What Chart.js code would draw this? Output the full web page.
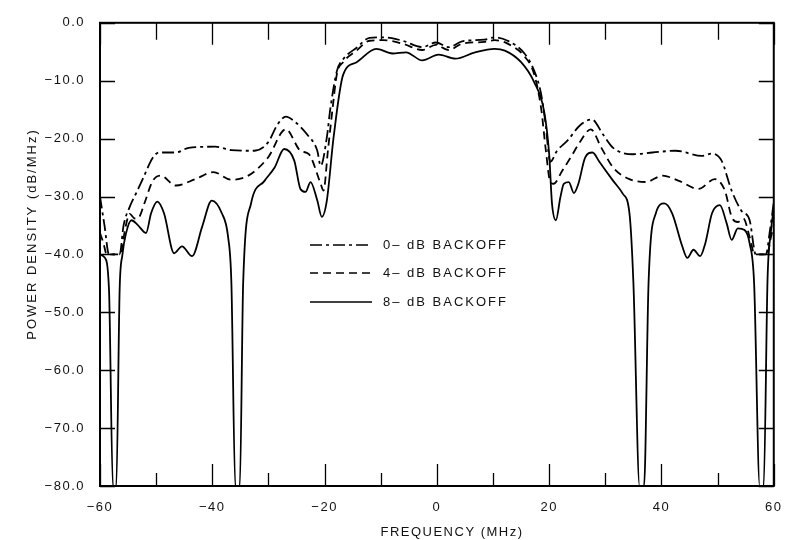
<!DOCTYPE html>
<html>
<head>
<meta charset="utf-8">
<script src="https://cdn.jsdelivr.net/npm/chart.js@4/dist/chart.umd.min.js"></script>
<style>
html,body{margin:0;padding:0;background:#fff;}
#wrap{width:795px;height:540px;}
</style>
</head>
<body>
<div id="wrap"><canvas id="c" width="795" height="540"></canvas></div>
<script>
// Series labels
const seriesLabels = ["0\u2013 dB BACKOFF", "4\u2013 dB BACKOFF", "8\u2013 dB BACKOFF"];

// 0-dB backoff (dash-dot)
const freq0 = [-60, -59.2, -58.4, -57.5, -56.5, -55.8, -54.8, -53.6, -52.4, -50.6, -49.5, -46.5, -44.2, -39.5, -36.6, -32.5, -30.1, -28.4, -26.9, -25.4, -23.1, -21.3, -20.7, -19.6, -19.0, -17.8, -16.7, -14.3, -12.0, -9.6, -6.1, -2.6, -0.2, 2.1, 4.5, 8.5, 10.3, 12.6, 15.6, 17.3, 18.5, 19.3, 20.2, 21.4, 23.2, 25.6, 27.6, 29.6, 31.4, 34.9, 38.4, 42.5, 47.2, 49.0, 50.7, 52.5, 54.2, 55.7, 56.8, 58.6, 59.3, 60];
const db0 = [-30, -35, -40, -40, -40, -35, -32, -29.5, -27, -23.3, -22.4, -22.4, -21.6, -21.4, -22, -22.1, -20.7, -17.6, -16.2, -17, -19.3, -22.1, -24.7, -19.8, -15, -8.3, -6.3, -4.3, -2.6, -2.5, -3.1, -4.2, -3.4, -4.2, -3.2, -2.9, -2.5, -3.1, -5.3, -8.2, -12, -17, -24, -22.1, -20.4, -17.6, -16.7, -19.3, -21.6, -22.7, -22.4, -22.1, -23, -22.6, -23.8, -29, -32.4, -34.1, -40, -40, -36, -31];

// 4-dB backoff (dashed)
const freq4 = [-60, -59.4, -58.8, -57.5, -56.3, -55.6, -54.7, -53.8, -53.0, -52.1, -50.6, -49.2, -46.5, -43.0, -39.8, -36.6, -33.6, -30.1, -26.9, -24.3, -22.8, -20.7, -20.2, -19.4, -18.6, -17.8, -16.7, -14.3, -12.0, -9.6, -6.1, -2.6, -0.2, 2.1, 4.5, 8.5, 10.3, 12.6, 15.6, 17.3, 18.6, 19.4, 20.2, 20.8, 22.3, 23.8, 25.6, 27.4, 29.3, 31.4, 34.3, 37.2, 40.2, 43.1, 46.6, 49.5, 51.3, 52.5, 53.6, 54.6, 55.7, 56.6, 58.8, 59.5, 60];
const db4 = [-36.3, -38, -40, -40, -40, -36, -33, -33.8, -33.5, -31.2, -27.3, -26.4, -28.1, -27, -25.8, -27.1, -26.4, -23.3, -18.4, -22.1, -22.7, -27.8, -29, -22, -15, -8.8, -6.8, -4.8, -3.1, -3.0, -3.6, -4.7, -3.8, -4.7, -3.6, -3.3, -3.0, -3.6, -5.8, -8.8, -15, -22, -27.5, -27.8, -25.6, -23.3, -20.4, -18.4, -21.6, -25, -27, -27.5, -26.4, -27.3, -28.7, -27, -29, -33.5, -34.4, -33.8, -37, -40, -40, -37, -35];

// 8-dB backoff (solid)
const freq8 = [-60, -59.2, -58.4, -57.7, -57.1, -56.5, -56.0, -55.4, -54.4, -53.3, -51.8, -50.9, -49.8, -48.6, -46.8, -45.4, -43.6, -41.8, -40.1, -38.3, -37.2, -36.6, -35.9, -35.1, -34.5, -33.1, -30.7, -28.9, -27.2, -25.4, -24.3, -23.4, -22.5, -21.3, -20.5, -19.6, -18.4, -16.7, -14.3, -10.8, -7.9, -5.5, -2.6, 0.3, 3.3, 6.8, 10.3, 12.1, 15.0, 17.3, 19.1, 20.0, 20.5, 21.2, 22.0, 22.6, 23.5, 24.4, 25.2, 26.4, 27.7, 29.0, 31.4, 33.1, 34.3, 35.0, 36.1, 36.9, 37.7, 39.0, 40.5, 41.9, 43.7, 44.6, 45.7, 46.9, 47.8, 49.0, 50.4, 51.6, 52.5, 53.6, 54.8, 55.7, 56.5, 57.5, 58.2, 58.9, 59.5, 60];
const db8 = [-40, -40.5, -46, -80, -80, -46, -40, -36.5, -34.1, -34.9, -36.3, -32.9, -30.9, -32.9, -39.8, -38.6, -40.3, -35.2, -30.7, -32.9, -36.9, -44.9, -80, -80, -44.9, -31.2, -27.3, -25.0, -21.8, -23.8, -28.7, -29.2, -27.5, -30.7, -33.5, -30.7, -19.8, -9.0, -6.8, -4.5, -5.3, -5.1, -6.5, -5.5, -6.2, -5.1, -4.5, -4.8, -6.8, -10.2, -15.3, -22.7, -31.2, -34.1, -30.1, -27.8, -27.5, -29.4, -27.8, -23.3, -22.4, -24.1, -27.3, -29.5, -32.9, -44.9, -80, -80, -44.9, -32.9, -31.2, -32.9, -38.6, -40.6, -39.2, -40.3, -38.1, -32.9, -31.5, -34.6, -37.5, -35.5, -35.8, -38.1, -45, -80, -80, -44, -36, -32];

// Axis ranges / ticks
const xMin = -60, xMax = 60, xStep = 10, xLabelEvery = 20;
const yMin = -80, yMax = 0, yStep = 10;
const xTitle = "FREQUENCY (MHz)";
const yTitle = "POWER DENSITY (dB/MHz)";

const FONT = '"Liberation Sans", Arial, Helvetica, sans-serif';
const dashes = [[12, 4, 3, 4], [8, 5], []];

function pts(f, d) { return f.map((x, i) => ({x: x, y: d[i]})); }
function fmtNeg(v, dec) {
  const s = Math.abs(v).toFixed(dec);
  return v < 0 ? '\u2212' + s : s;
}

const frame = {
  id: 'frame',
  beforeDraw(c) { c.ctx.letterSpacing = '1.5px'; },
  afterDraw(c) {
    const {ctx, chartArea: a, scales: {x, y}} = c;
    ctx.save();
    ctx.letterSpacing = '0px';
    ctx.setLineDash([]);
    ctx.strokeStyle = '#000';
    ctx.lineWidth = 2;
    ctx.strokeRect(a.left, a.top, a.right - a.left, a.bottom - a.top);
    ctx.lineWidth = 1.3;
    ctx.beginPath();
    y.ticks.forEach(t => {
      const py = Math.round(y.getPixelForValue(t.value)) + 0.5;
      ctx.moveTo(a.left, py); ctx.lineTo(a.left + 15, py);
      ctx.moveTo(a.right, py); ctx.lineTo(a.right - 15, py);
    });
    x.ticks.forEach(t => {
      const px = Math.round(x.getPixelForValue(t.value)) + 0.5;
      const major = Math.abs(t.value % xLabelEvery) < 1e-6;
      const lb = major ? 22 : 13, lt = major ? 22 : 17;
      ctx.moveTo(px, a.bottom); ctx.lineTo(px, a.bottom - lb);
      ctx.moveTo(px, a.top); ctx.lineTo(px, a.top + lt);
    });
    ctx.stroke();

    // axis titles
    ctx.fillStyle = '#111';
    ctx.font = '13px ' + FONT;
    ctx.textBaseline = 'middle';
    ctx.textAlign = 'center';
    ctx.letterSpacing = '1.5px';
    ctx.fillText(xTitle, 452, 532);
    ctx.save();
    ctx.translate(32, 234);
    ctx.rotate(-Math.PI / 2);
    ctx.letterSpacing = '2px';
    ctx.fillText(yTitle, 0, 0);
    ctx.restore();

    // legend
    const lx0 = 310, lx1 = 372, tx = 383, rows = [245, 273, 302];
    c.data.datasets.forEach((ds, i) => {
      ctx.beginPath();
      ctx.setLineDash(ds.borderDash || []);
      ctx.lineWidth = 1.7;
      ctx.moveTo(lx0, rows[i]); ctx.lineTo(lx1, rows[i]);
      ctx.stroke();
      ctx.setLineDash([]);
      ctx.letterSpacing = '2px';
      ctx.font = '13px ' + FONT;
      ctx.fillStyle = '#111';
      ctx.textBaseline = 'middle';
      ctx.textAlign = 'left';
      ctx.fillText(ds.label, tx, rows[i]);
    });
    ctx.restore();
  }
};

new Chart(document.getElementById('c'), {
  type: 'line',
  data: {
    datasets: [
      {label: seriesLabels[0], data: pts(freq0, db0), borderDash: dashes[0]},
      {label: seriesLabels[1], data: pts(freq4, db4), borderDash: dashes[1]},
      {label: seriesLabels[2], data: pts(freq8, db8), borderDash: dashes[2]}
    ].map(d => Object.assign(d, {
      borderColor: '#000', borderWidth: 1.8, pointRadius: 0, fill: false,
      cubicInterpolationMode: 'monotone', tension: 0.4
    }))
  },
  options: {
    responsive: false,
    animation: false,
    layout: {padding: {top: 17, right: 12, bottom: 0, left: 0}},
    plugins: {legend: {display: false}, tooltip: {enabled: false}},
    scales: {
      x: {
        type: 'linear', min: xMin, max: xMax,
        grid: {display: false, drawTicks: false},
        border: {display: false},
        ticks: {
          stepSize: xStep, autoSkip: false, maxRotation: 0, padding: 14,
          color: '#111', font: {family: FONT, size: 13},
          callback: v => (Math.abs(v % xLabelEvery) < 1e-6 ? fmtNeg(v, 0) : '')
        },
        title: {display: false, text: xTitle},
        afterFit: s => { s.height = 54; }
      },
      y: {
        type: 'linear', min: yMin, max: yMax,
        grid: {display: false, drawTicks: false},
        border: {display: false},
        ticks: {
          stepSize: yStep, autoSkip: false, padding: 15,
          color: '#111', font: {family: FONT, size: 13},
          callback: v => fmtNeg(v, 1)
        },
        title: {display: false, text: yTitle},
        afterFit: s => { s.width = 100; }
      }
    }
  },
  plugins: [frame]
});
</script>
</body>
</html>
